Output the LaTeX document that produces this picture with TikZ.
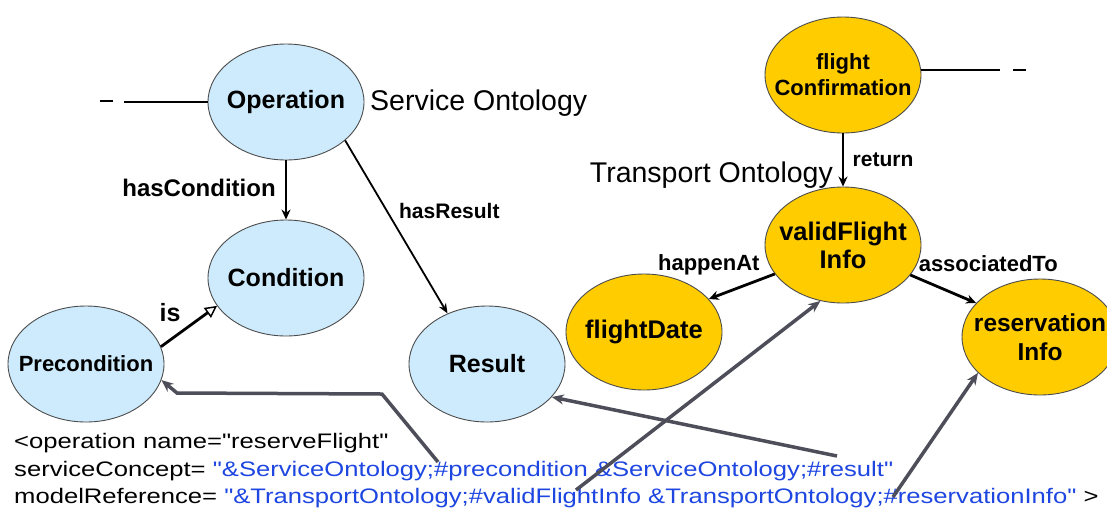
\documentclass[tikz,border=0pt]{standalone}
\usepackage{fontspec}
\setmainfont{Liberation Sans}
\newfontfamily\codefont{Liberation Sans}[FakeStretch=1.22]
\usetikzlibrary{shapes.geometric,arrows.meta}
\definecolor{lblue}{RGB}{205,235,252}
\definecolor{gold}{RGB}{255,204,0}
\definecolor{tblue}{RGB}{30,70,225}
\definecolor{agray}{RGB}{78,78,90}
\tikzset{
  ell/.style={ellipse,draw=black!70,line width=0.9pt,inner xsep=-25pt,inner ysep=0pt,minimum width=156pt,minimum height=116pt,align=center,font=\bfseries\fontsize{25}{28}\selectfont},
  bnode/.style={ell,fill=lblue},
  gnode/.style={ell,fill=gold},
  arr/.style={-{Stealth[length=10pt,width=9pt]},line width=2.8pt},
  thin arr/.style={-{Stealth[length=10pt,width=8pt]},line width=1.8pt},
  garr/.style={-{Stealth[length=12pt,width=10pt]},line width=3.5pt,draw=agray},
  elab/.style={font=\bfseries\fontsize{22}{24}\selectfont,inner sep=0pt},
  plain/.style={font=\fontsize{28.5}{30}\selectfont,inner sep=0pt},
  code/.style={font=\codefont\fontsize{21}{23}\selectfont,inner sep=0pt,anchor=base west},
  conn/.style={line width=2.8pt},
}
\begin{document}
\begin{tikzpicture}[x=1pt,y=-1pt]
\useasboundingbox[fill=white] (0,0) rectangle (1107,512);
% service ontology
\node[bnode] (op) at (286,102) {Operation};
\node[bnode] (cond) at (286,278) {Condition};
\node[bnode,font=\bfseries\fontsize{22}{24}\selectfont] (pre) at (86,364) {Precondition};
\node[bnode] (res) at (487,364) {Result};
\node[plain,anchor=west] (so) at (370,103) {Service Ontology};
\coordinate (opl) at (124,102);
\draw[conn] (op.west) -- (opl);
\draw[conn] (100,101) -- (113,101);
\draw[arr] (op) -- (cond) node[midway,xshift=-87pt,yshift=2pt,elab,font=\bfseries\fontsize{24}{26}\selectfont] {hasCondition};
\draw[thin arr] (op.-33) -- (res.128) node[midway,xshift=53pt,yshift=16pt,elab,font=\bfseries\fontsize{21}{23}\selectfont] {hasResult};
\draw[conn,-{Triangle[open,length=12pt,width=12pt,line width=1.5pt]}] (pre.13) -- (cond.202) node[midway,xshift=-19pt,yshift=14pt,elab,font=\bfseries\fontsize{25}{27}\selectfont] {is};
% transport ontology
\node[gnode,font=\bfseries\fontsize{22}{26}\selectfont] (fc) at (843,75) {flight\\Confirmation};
\node[gnode,font=\bfseries\fontsize{25.5}{28}\selectfont] (vfi) at (843,245) {validFlight\\Info};
\node[gnode,font=\bfseries\fontsize{25.5}{28}\selectfont] (fd) at (644,332) {flightDate};
\node[gnode,font=\bfseries\fontsize{24.5}{29}\selectfont] (ri) at (1040,337) {reservation\\Info};
\node[plain,anchor=east] (to) at (833,175) {Transport Ontology};
\coordinate (fcr) at (1000,70);
\draw[conn] (fc.east|-fcr) -- (fcr);
\draw[conn] (1013,70) -- (1026,70);
\draw[arr] (fc) -- (vfi) node[midway,xshift=40pt,elab,font=\bfseries\fontsize{21}{23}\selectfont] {return};
\draw[arr] (vfi.203) -- (fd.27) node[midway,xshift=-33pt,yshift=22pt,elab] {happenAt};
\draw[arr] (vfi.336) -- (ri.152) node[midway,xshift=45pt,yshift=25pt,elab] {associatedTo};
% code text
\node[code] (l1) at (14,448) {<operation name="reserveFlight"};
\node[code] (l2) at (14,476) {serviceConcept= \textcolor{tblue}{"\&ServiceOntology;\#precondition \&ServiceOntology;\#result"}};
\node[code] (l3) at (14,503) {modelReference= \textcolor{tblue}{"\&TransportOntology;\#validFlightInfo \&TransportOntology;\#reservationInfo"} >};
% gray reference arrows
\coordinate (s1) at (438,462);
\coordinate (s2) at (837,456);
\coordinate (s3) at (576,490);
\coordinate (s4) at (893,497);
\draw[garr] (s1) -- (382,394) -- (177,393) -- (pre.-12);
\draw[garr] (s2) -- (res.-27);
\draw[garr] (s3) -- (vfi.248);
\draw[garr] (s4) -- (ri.210);
\end{tikzpicture}
\end{document}
